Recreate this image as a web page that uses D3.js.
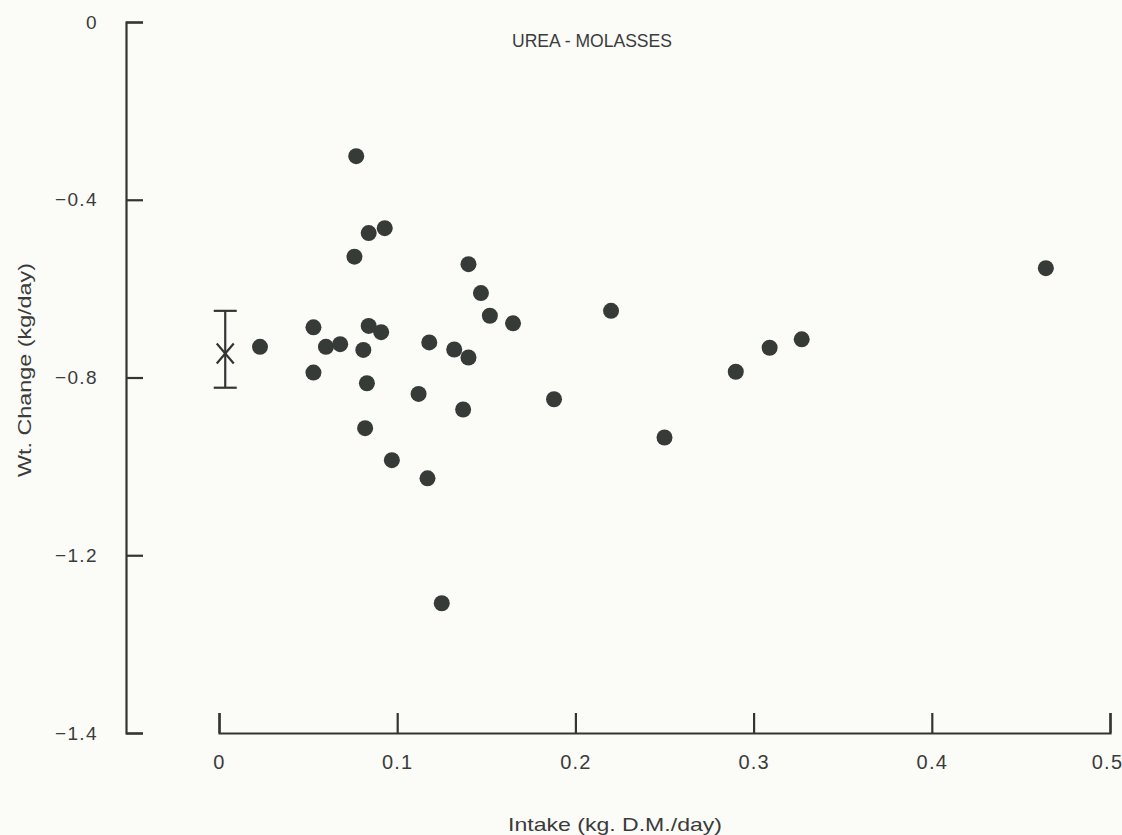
<!DOCTYPE html>
<html>
<head>
<meta charset="utf-8">
<script src="https://cdn.jsdelivr.net/npm/d3@7"></script>
<style>
  html, body { margin: 0; padding: 0; background: #fbfbf8; }
  svg { display: block; }
  text { font-family: "Liberation Sans", Arial, Helvetica, sans-serif; fill: #3b3b3b; }
</style>
</head>
<body>
<svg id="chart" width="1122" height="835"></svg>
<script>
// ---- Data ----
const chartTitle = "UREA - MOLASSES";
const xTitle = "Intake (kg. D.M./day)";
const yTitle = "Wt. Change (kg/day)";

const intake = [0.077, 0.084, 0.093, 0.076, 0.140, 0.147, 0.152, 0.165, 0.053, 0.084,
                0.091, 0.023, 0.060, 0.068, 0.081, 0.118, 0.132, 0.140, 0.053, 0.083,
                0.112, 0.137, 0.082, 0.097, 0.117, 0.125, 0.220, 0.188, 0.250, 0.290,
                0.309, 0.327, 0.464];
const wtChange = [-0.302, -0.475, -0.464, -0.528, -0.545, -0.610, -0.661, -0.678, -0.687, -0.684,
                  -0.698, -0.731, -0.731, -0.725, -0.738, -0.721, -0.737, -0.755, -0.789, -0.813,
                  -0.837, -0.872, -0.914, -0.986, -1.027, -1.308, -0.650, -0.849, -0.935, -0.787,
                  -0.733, -0.714, -0.554];

// Mean +/- error marker at zero intake
const meanIntake = [0.0035];
const meanChange = [-0.746];
const meanUpper = [-0.650];
const meanLower = [-0.823];

const xTickValues = [0, 0.1, 0.2, 0.3, 0.4, 0.5];
const xTickLabels = ["0", "0.1", "0.2", "0.3", "0.4", "0.5"];
// Note: the original's bottom label reads -1.4 although its spacing corresponds to -1.6
const yTickValues = [0, -0.4, -0.8, -1.2, -1.6];
const yTickLabels = ["0", "\u22120.4", "\u22120.8", "\u22121.2", "\u22121.4"];

// ---- Layout ----
const svg = d3.select("#chart");
const ink = "#333533";
const dotColor = "#363b38";

const x = d3.scaleLinear().domain([0, 0.5]).range([219, 1110]);
const y = d3.scaleLinear().domain([0, -1.6]).range([22, 733]);

// X axis
const xAxis = d3.axisBottom(x)
  .tickValues(xTickValues)
  .tickFormat((d, i) => xTickLabels[i])
  .tickSize(-20)
  .tickSizeOuter(-20)
  .tickPadding(22);
const gx = svg.append("g").attr("transform", `translate(0,${y(-1.6)})`).call(xAxis);
gx.select(".domain").attr("stroke", ink).attr("stroke-width", 2.2);
gx.selectAll(".tick line").attr("stroke", ink).attr("stroke-width", 2.2);
gx.selectAll(".tick text").attr("font-size", 20).attr("letter-spacing", 1.2)
  .style("font-family", "'Liberation Sans', Arial, sans-serif").attr("fill", "#3b3b3b")
  .attr("dx", (d, i) => i === xTickValues.length - 1 ? -3 : 0);

// Y axis
const yAxis = d3.axisLeft(y)
  .tickValues(yTickValues)
  .tickFormat((d, i) => yTickLabels[i])
  .tickSize(-17)
  .tickSizeOuter(-17)
  .tickPadding(28);
const gy = svg.append("g").attr("transform", `translate(126,0)`).call(yAxis);
gy.select(".domain").attr("stroke", ink).attr("stroke-width", 2.2);
gy.selectAll(".tick line").attr("stroke", ink).attr("stroke-width", 2.2);
gy.selectAll(".tick text").attr("font-size", 19).attr("letter-spacing", 1.4)
  .style("font-family", "'Liberation Sans', Arial, sans-serif").attr("fill", "#3b3b3b");

// Titles
svg.append("text")
  .attr("x", 512).attr("y", 47)
  .attr("font-size", 18)
  .attr("textLength", 160).attr("lengthAdjust", "spacingAndGlyphs")
  .text(chartTitle);

svg.append("text")
  .attr("x", 508).attr("y", 831)
  .attr("font-size", 19)
  .attr("textLength", 214).attr("lengthAdjust", "spacingAndGlyphs")
  .text(xTitle);

svg.append("text")
  .attr("transform", "translate(31,477) rotate(-90)")
  .attr("x", 0).attr("y", 0)
  .attr("font-size", 18)
  .attr("textLength", 214).attr("lengthAdjust", "spacingAndGlyphs")
  .text(yTitle);

// Mean marker with error bar
const mean = meanIntake.map((d, i) => ({x: d, m: meanChange[i], hi: meanUpper[i], lo: meanLower[i]}));
const gm = svg.append("g").attr("stroke", ink).attr("stroke-width", 2.2).attr("fill", "none");
mean.forEach(d => {
  const cx = x(d.x);
  gm.append("line").attr("x1", cx).attr("x2", cx).attr("y1", y(d.hi)).attr("y2", y(d.lo));
  gm.append("line").attr("x1", cx - 11.5).attr("x2", cx + 11.5).attr("y1", y(d.hi)).attr("y2", y(d.hi));
  gm.append("line").attr("x1", cx - 11.5).attr("x2", cx + 11.5).attr("y1", y(d.lo)).attr("y2", y(d.lo));
  const cy = y(d.m);
  gm.append("line").attr("x1", cx - 8.5).attr("x2", cx + 8.5).attr("y1", cy - 10).attr("y2", cy + 10);
  gm.append("line").attr("x1", cx - 8.5).attr("x2", cx + 8.5).attr("y1", cy + 10).attr("y2", cy - 10);
});

// Points
const pts = intake.map((d, i) => ({x: d, y: wtChange[i]}));
svg.append("g").selectAll("circle")
  .data(pts)
  .join("circle")
  .attr("cx", d => x(d.x))
  .attr("cy", d => y(d.y))
  .attr("r", 8)
  .attr("fill", dotColor);
</script>
</body>
</html>
